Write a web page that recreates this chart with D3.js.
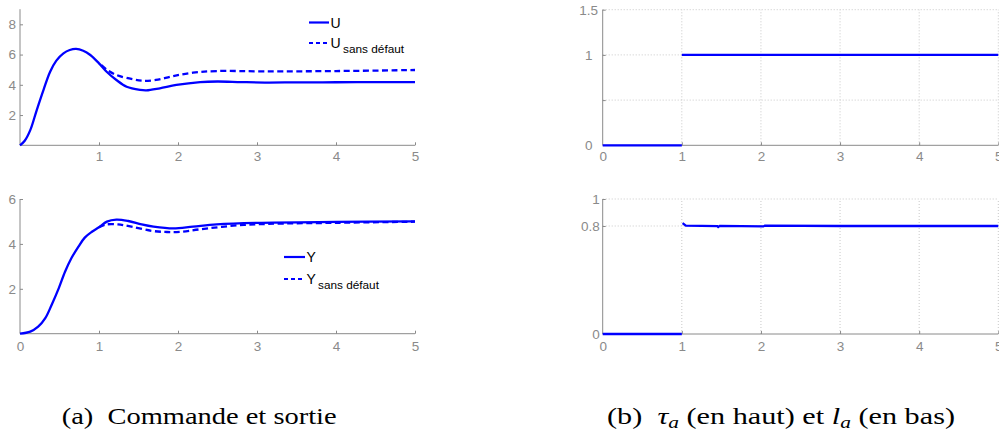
<!DOCTYPE html>
<html>
<head>
<meta charset="utf-8">
<script src="https://cdn.jsdelivr.net/npm/d3@7"></script>
<style>
  body { margin: 0; background: #fff; }
  svg { display: block; }
  .axis path, .axis line { stroke: #8a8a8a; }
  .axis text { fill: #8a8a8a; font-family: "Liberation Sans", Arial, sans-serif; font-size: 13.5px; }
  .grid line { stroke: #c8c8c8; stroke-dasharray: 1,2; }
  .legend text { font-family: "Liberation Sans", Arial, sans-serif; fill: #000; }
</style>
</head>
<body>
<div id="chart"></div>
<script>
// ---- data ----
// commande U (avec defaut) and U sans defaut
var uT   = [0, 0.06, 0.13, 0.21, 0.30, 0.38, 0.46, 0.55, 0.63, 0.71, 0.80, 0.89, 1.0, 1.1, 1.22, 1.35, 1.52, 1.60, 1.77, 1.98, 2.28, 2.5, 2.8, 3.1, 3.5, 4.0, 4.5, 5.0];
var uV   = [0, 0.30, 1.0, 2.3, 3.7, 4.85, 5.6, 6.08, 6.30, 6.37, 6.25, 5.97, 5.42, 4.85, 4.32, 3.87, 3.66, 3.63, 3.77, 3.99, 4.18, 4.22, 4.18, 4.15, 4.16, 4.17, 4.18, 4.18];
var uSdT = [1.03, 1.1, 1.22, 1.43, 1.55, 1.72, 1.94, 2.19, 2.49, 3.1, 4.0, 5.0];
var uSdV = [5.30, 5.0, 4.65, 4.36, 4.27, 4.32, 4.58, 4.80, 4.91, 4.89, 4.91, 4.98];
// sortie Y and Y sans defaut
var yT   = [0, 0.13, 0.23, 0.32, 0.40, 0.49, 0.57, 0.65, 0.74, 0.82, 0.91, 1.0, 1.1, 1.22, 1.37, 1.54, 1.69, 1.94, 2.19, 2.49, 3.0, 4.0, 5.0];
var yV   = [0, 0.09, 0.31, 0.69, 1.28, 2.02, 2.76, 3.36, 3.88, 4.28, 4.54, 4.74, 4.99, 5.08, 5.02, 4.87, 4.77, 4.69, 4.77, 4.87, 4.94, 4.98, 5.0];
var ySdT = [1.0, 1.08, 1.24, 1.41, 1.67, 1.86, 2.03, 2.28, 2.7, 3.12, 4.0, 5.0];
var ySdV = [4.74, 4.86, 4.87, 4.77, 4.58, 4.53, 4.54, 4.65, 4.81, 4.89, 4.94, 4.99];
// tau_a and l_a (null = break in the line)
var tauT = [0, 1, 1, 1, 5];
var tauV = [0, 0, null, 1, 1];
var laT  = [0, 1, 1, 1.01, 1.05, 1.45, 1.46, 1.48, 2.03, 2.05, 3.0, 5.0];
var laV  = [0, 0, null, 0.822, 0.803, 0.799, 0.793, 0.801, 0.797, 0.803, 0.800, 0.800];

// ticks
var xTicks = [0, 1, 2, 3, 4, 5];
var uTicks = [2, 4, 6, 8];
var yTicks = [2, 4, 6];
var tauTicks = [0, 0.5, 1, 1.5];
var tauLabels = ["0", "", "1", "1.5"];
var laTicks = [0, 0.8, 1];
var laLabels = ["0", "0.8", "1"];

var W = 999, H = 432;
var BLUE = "#0000ff";

var svg = d3.select("#chart").append("svg").attr("width", W).attr("height", H);

function zip(ts, vs) { return ts.map(function (t, i) { return [t, vs[i]]; }); }

function panel(p) {
  var x = d3.scaleLinear().domain([0, 5]).range([p.left, p.right]);
  var y = d3.scaleLinear().domain(p.yDomain).range([p.bottom, p.top]);
  var g = svg.append("g");

  if (p.grid) {
    var grid = g.append("g").attr("class", "grid");
    grid.selectAll(".gx").data(xTicks.filter(function (d) { return d > 0; })).enter().append("line")
      .attr("x1", function (d) { return x(d); }).attr("x2", function (d) { return x(d); })
      .attr("y1", y(p.yDomain[0])).attr("y2", y(p.yDomain[1]));
    grid.selectAll(".gy").data(p.yTicks.filter(function (d) { return d > 0; })).enter().append("line")
      .attr("y1", function (d) { return y(d); }).attr("y2", function (d) { return y(d); })
      .attr("x1", x(0)).attr("x2", x(5));
  }

  var xAxis = g.append("g").attr("class", "axis")
    .attr("transform", "translate(0," + p.bottom + ")")
    .call(d3.axisBottom(x).tickValues(p.xTicks).tickSize(-3).tickSizeOuter(0).tickPadding(p.xPad)
      .tickFormat(function (d) { return String(d); }));
  var yAxis = g.append("g").attr("class", "axis")
    .attr("transform", "translate(" + p.left + ",0)")
    .call(d3.axisLeft(y).tickValues(p.yTicks).tickSize(-3).tickSizeOuter(0).tickPadding(p.yPad)
      .tickFormat(function (d, i) { return p.yLabels ? p.yLabels[i] : String(d); }));
  if (p.yAnchor) yAxis.selectAll("text").attr("text-anchor", p.yAnchor);
  // the vertical axis goes down to the x axis
  yAxis.select(".domain").attr("d", "M0," + y(p.yDomain[0]) + "V" + y(p.yDomain[1]));
  xAxis.select(".domain").attr("d", "M" + x(0) + ",0H" + x(5));
  xAxis.selectAll(".tick line").filter(function (d) { return d === 0; }).remove();
  yAxis.selectAll(".tick line").filter(function (d) { return d === p.yDomain[0]; }).remove();

  var line = d3.line()
    .defined(function (d) { return d[1] !== null; })
    .x(function (d) { return x(d[0]); })
    .y(function (d) { return y(d[1]); })
    .curve(p.curve || d3.curveLinear);

  p.series.forEach(function (s) {
    g.append("path")
      .datum(zip(s.t, s.v))
      .attr("fill", "none")
      .attr("stroke", BLUE)
      .attr("stroke-width", 2.3)
      .attr("stroke-dasharray", s.dashed ? "6,3.5" : null)
      .attr("d", line);
  });

  if (p.legend) {
    var lg = g.append("g").attr("class", "legend");
    p.legend.items.forEach(function (it, i) {
      var ly = p.legend.y + i * p.legend.dy;
      lg.append("line")
        .attr("x1", p.legend.x).attr("x2", p.legend.x + p.legend.len)
        .attr("y1", ly).attr("y2", ly)
        .attr("stroke", BLUE).attr("stroke-width", 2.2)
        .attr("stroke-dasharray", it.dashed ? "4,3" : null);
      lg.append("text")
        .attr("x", p.legend.x + p.legend.len + 1.5).attr("y", ly + 5.2)
        .style("font-size", "14px")
        .text(it.label);
      if (it.sub) {
        var st = lg.append("text")
          .style("font-size", p.legend.subSize + "px")
          .text(it.sub);
        fitText(st, p.legend.x + p.legend.len + p.legend.subDx, ly + p.legend.subDy, p.legend.subW);
      }
    });
  }
}

// stretch a text horizontally so that it covers a given width
function fitText(sel, x0, baseline, width) {
  sel.attr("x", 0).attr("y", 0);
  var w = sel.node().getBBox().width;
  sel.attr("transform", "translate(" + x0 + "," + baseline + ") scale(" + (width / w) + ",1)");
}

// (a) top : U
panel({
  left: 20, right: 415, top: 9.2, bottom: 145.3, yDomain: [0, 9],
  xTicks: [1, 2, 3, 4, 5], yTicks: uTicks, xPad: 6.5, yPad: 4,
  curve: d3.curveCatmullRom,
  series: [{ t: uSdT, v: uSdV, dashed: true }, { t: uT, v: uV }],
  legend: { x: 309, y: 22.5, dy: 20.5, len: 20, subSize: 11.5, subDx: 14, subDy: 9.5, subW: 62,
    items: [{ label: "U" }, { label: "U", sub: "sans défaut", dashed: true }] }
});
// (a) bottom : Y
panel({
  left: 20, right: 415, top: 199, bottom: 333.7, yDomain: [0, 6],
  xTicks: xTicks, yTicks: yTicks, xPad: 7.5, yPad: 4,
  curve: d3.curveCatmullRom,
  series: [{ t: ySdT, v: ySdV, dashed: true }, { t: yT, v: yV }],
  legend: { x: 284, y: 257, dy: 22, len: 21, subSize: 11, subDx: 13, subDy: 10, subW: 61,
    items: [{ label: "Y" }, { label: "Y", sub: "sans défaut", dashed: true }] }
});
// (b) top : tau_a
panel({
  left: 602.7, right: 998.3, top: 9.7, bottom: 145.3, yDomain: [0, 1.5],
  xTicks: xTicks, yTicks: tauTicks, yLabels: tauLabels, xPad: 6.5, yPad: 14, yAnchor: "middle",
  grid: true,
  series: [{ t: tauT, v: tauV }]
});
// (b) bottom : l_a
panel({
  left: 602.7, right: 998.3, top: 199, bottom: 334, yDomain: [0, 1],
  xTicks: xTicks, yTicks: laTicks, yLabels: laLabels, xPad: 7.5, yPad: 3,
  grid: true,
  series: [{ t: laT, v: laV }]
});

// captions (LaTeX-like serif)
function caption() {
  return svg.append("text")
    .style("font-family", "'Liberation Serif'")
    .style("font-size", "24px").attr("fill", "#000");
}
var capA = caption().text("(a)\u2002Commande et sortie");
fitText(capA, 61.7, 424, 275);

var capB = caption();
capB.append("tspan").text("(b)\u2002");
capB.append("tspan").style("font-style", "italic").text("τ");
capB.append("tspan").style("font-style", "italic").style("font-size", "17px").attr("dy", 4).text("a");
capB.append("tspan").attr("dy", -4).text(" (en haut) et ");
capB.append("tspan").style("font-style", "italic").text("l");
capB.append("tspan").style("font-style", "italic").style("font-size", "17px").attr("dy", 4).text("a");
capB.append("tspan").attr("dy", -4).text(" (en bas)");
fitText(capB, 607, 424, 348);
</script>
</body>
</html>
